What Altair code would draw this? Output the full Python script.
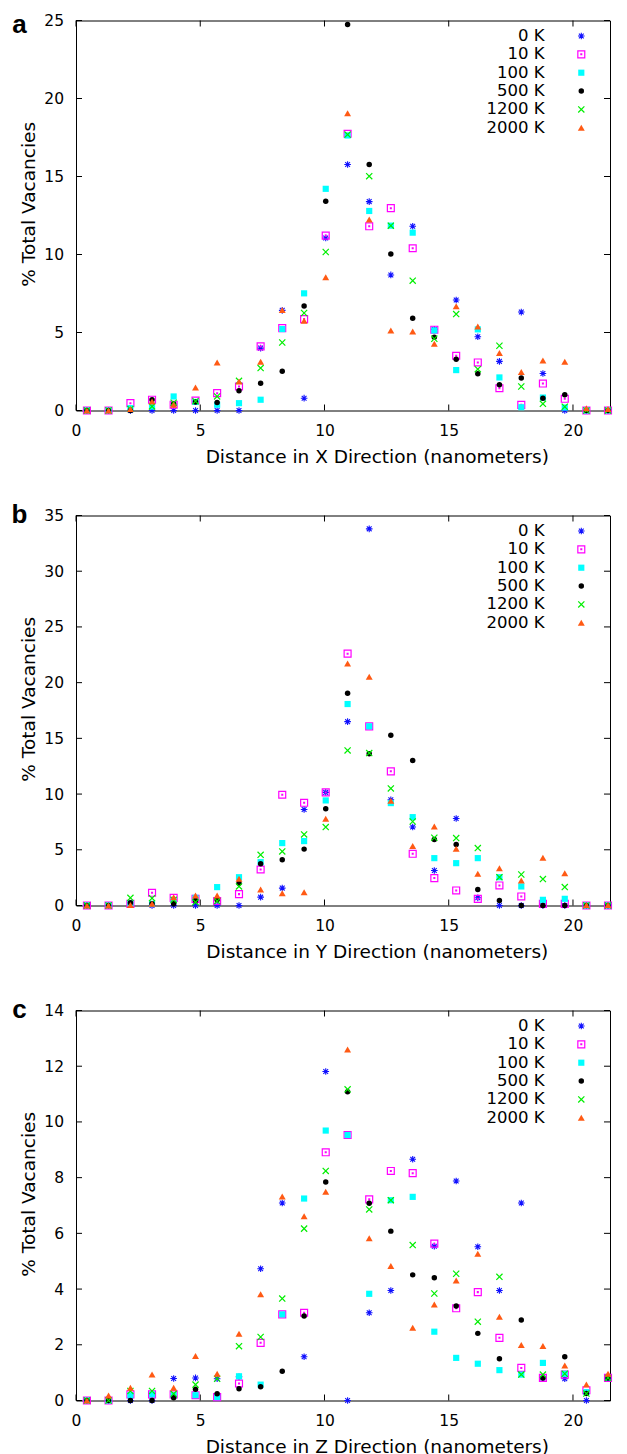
import altair as alt
import pandas as pd

FONT = "DejaVu Sans"
LETTER_FONT = "Liberation Sans"

# ---------------- data ----------------
distance_nm = [0.44, 1.31, 2.19, 3.06, 3.93, 4.81, 5.68, 6.56, 7.43, 8.30, 9.18, 10.05,
               10.93, 11.80, 12.67, 13.55, 14.42, 15.30, 16.17, 17.04, 17.92, 18.79,
               19.67, 20.54, 21.41]
temperature_labels = ["0 K", "10 K", "100 K", "500 K", "1200 K", "2000 K"]

# panel a : X direction
x_0K = [0, 0, 0, 0, 0, 0, 0, 0, 4.0, 6.42, 0.79, 11.06, 15.77, 13.39, 8.69, 11.81, 5.2,
        7.08, 4.73, 3.15, 6.31, 2.37, 0, 0, 0]
x_10K = [0, 0, 0.47, 0.69, 0.37, 0.64, 1.11, 1.54, 4.11, 5.28, 5.86, 11.21, 17.74, 11.81,
         12.97, 10.40, 5.18, 3.51, 3.08, 1.43, 0.36, 1.73, 0.75, 0, 0]
x_100K = [0, 0, 0.15, 0.25, 0.9, 0.55, 0.37, 0.47, 0.69, 5.22, 7.51, 14.21, 17.63, 12.79,
          11.85, 11.40, 5.13, 2.59, 5.2, 2.12, 0.21, 0.83, 0.19, 0, 0]
x_500K = [0, 0, 0, 0.69, 0.41, 0.55, 0.51, 1.26, 1.75, 2.52, 6.70, 13.41, 24.75, 15.77,
          10.03, 5.91, 4.69, 3.29, 2.35, 1.65, 2.08, 0.79, 1.01, 0, 0]
x_1200K = [0, 0, 0.1, 0.26, 0.5, 0.6, 0.9, 1.9, 2.72, 4.36, 6.25, 10.16, 17.69, 15.02,
           11.85, 8.32, 4.6, 6.18, 2.65, 4.15, 1.54, 0.43, 0.24, 0, 0]
x_2000K = [0, 0, 0.1, 0.58, 0.37, 1.48, 3.08, 1.86, 3.12, 6.44, 5.76, 8.54, 19.06, 12.24,
           5.13, 5.07, 4.28, 6.68, 5.39, 3.68, 2.46, 3.21, 3.12, 0.15, 0.1]

# panel b : Y direction
y_0K = [0, 0, 0.1, 0, 0, 0, 0, 0, 0.75, 1.56, 8.62, 10.15, 16.5, 33.8, 9.49, 7.04, 3.14,
        7.81, 0.69, 0, 0, 0, 0, 0, 0]
y_10K = [0, 0, 0.15, 1.14, 0.69, 0.6, 0.4, 1.02, 3.23, 9.94, 9.22, 10.15, 22.6, 16.08,
         12.04, 4.64, 2.46, 1.35, 0.6, 1.8, 0.81, 0.15, 0.15, 0, 0]
y_100K = [0, 0, 0.2, 0.15, 0.45, 0.69, 1.65, 2.54, 3.89, 5.6, 5.78, 9.43, 18.08, 16.08,
          9.19, 7.93, 4.25, 3.8, 4.25, 2.54, 1.71, 0.51, 0.6, 0, 0]
y_500K = [0, 0, 0.24, 0.15, 0.15, 0.45, 0.51, 2.0, 3.74, 4.1, 5.06, 8.68, 19.04, 13.62,
          15.27, 13.02, 5.93, 5.48, 1.44, 0.45, 0, 0, 0, 0, 0]
y_1200K = [0, 0, 0.69, 0.66, 0.51, 0.3, 0.4, 1.71, 4.55, 4.85, 6.38, 7.04, 13.92, 13.68,
           10.51, 7.54, 6.08, 6.05, 5.15, 2.54, 2.78, 2.37, 1.65, 0, 0]
y_2000K = [0, 0, 0.05, 0.15, 0.75, 0.9, 0.9, 2.4, 1.44, 1.11, 1.2, 7.78, 21.71, 20.54,
           9.4, 5.33, 7.1, 5.09, 2.84, 3.35, 2.25, 4.28, 2.9, 0.05, 0.05]

# panel c : Z direction
z_0K = [0, 0, 0, 0, 0.79, 0.81, 0.78, 0.85, 4.73, 7.09, 1.57, 11.81, 0, 3.15, 3.95, 8.66,
        5.54, 7.88, 5.52, 3.95, 7.09, 0.81, 0.78, 0, 0.81]
z_10K = [0, 0, 0.22, 0.22, 0.22, 0.19, 0.12, 0.61, 2.07, 3.09, 3.15, 8.91, 9.53, 7.22,
         8.24, 8.16, 5.63, 3.31, 3.89, 2.25, 1.17, 0.81, 0.93, 0.37, 0.81]
z_100K = [0, 0, 0.19, 0.22, 0.19, 0.19, 0.12, 0.87, 0.57, 3.09, 7.25, 9.69, 9.53, 3.83,
          7.19, 7.31, 2.47, 1.53, 1.32, 1.09, 0.93, 1.35, 0.96, 0.3, 0.81]
z_500K = [0, 0, 0, 0, 0.1, 0.4, 0.24, 0.42, 0.49, 1.05, 3.03, 7.84, 11.08, 7.08, 6.08,
          4.51, 4.41, 3.39, 2.41, 1.5, 2.89, 0.81, 1.57, 0.25, 0.81]
z_1200K = [0, 0, 0.34, 0.34, 0.24, 0.57, 0.78, 1.95, 2.28, 3.66, 6.17, 8.24, 11.17, 6.86,
           7.19, 5.58, 3.84, 4.55, 2.83, 4.44, 0.93, 0.93, 0.96, 0.25, 0.81]
z_2000K = [0, 0.18, 0.46, 0.93, 0.46, 1.6, 0.96, 2.4, 3.81, 7.32, 6.61, 7.49, 12.6, 5.82,
           4.83, 2.61, 3.45, 4.31, 5.27, 3.01, 1.99, 1.96, 1.26, 0.57, 0.96]

panel_letters = ["a", "b", "c"]
directions = ["X", "Y", "Z"]
x_tick_values = [0, 5, 10, 15, 20]
y_ticks_a = [0, 5, 10, 15, 20, 25]
y_ticks_b = [0, 5, 10, 15, 20, 25, 30, 35]
y_ticks_c = [0, 2, 4, 6, 8, 10, 12, 14]

panel_series = [
    [x_0K, x_10K, x_100K, x_500K, x_1200K, x_2000K],
    [y_0K, y_10K, y_100K, y_500K, y_1200K, y_2000K],
    [z_0K, z_10K, z_100K, z_500K, z_1200K, z_2000K],
]
panel_yticks = [y_ticks_a, y_ticks_b, y_ticks_c]
X_MAX = 21.49

# ---------------- styles ----------------
W, H = 534, 390
TICK = 6
STAR = "M-1,0L1,0M0,-1L0,1M-0.72,-0.72L0.72,0.72M-0.72,0.72L0.72,-0.72"
SQDOT = "M-1,-1L1,-1L1,1L-1,1Z M-0.12,-0.12L0.12,-0.12L0.12,0.12L-0.12,0.12Z"
XSHAPE = "M-1,-1L1,1M-1,1L1,-1"
styles = [
    dict(shape=STAR, filled=False, color="#1010ff", size=44, strokeWidth=1.1, opacity=1),
    dict(shape=SQDOT, filled=False, color="#ff00ff", size=48, strokeWidth=1.2, opacity=1),
    dict(shape="square", filled=True, color="#00ffff", size=38, opacity=1),
    dict(shape="circle", filled=True, color="#000000", size=30, opacity=1),
    dict(shape=XSHAPE, filled=False, color="#00ee00", size=38, strokeWidth=1.2, opacity=1),
    dict(shape="triangle-up", filled=True, color="#ff5a14", size=48, opacity=1),
]
LEGEND_TEXT_X = 468.6
LEGEND_SYMBOL_X = 505.3
LETTER_Y = [12.0, 7.5, 7.5]
X_TITLE_X = 300.8
Y_TITLE_Y = 183.3


def panel(k):
    xaxis = alt.Axis(values=x_tick_values, title=f"Distance in {directions[k]} Direction (nanometers)",
                     ticks=False, tickSize=0, domain=False, grid=False, labelFlush=False,
                     labelOverlap=False, labelPadding=12.5, titlePadding=8.5, titleX=X_TITLE_X,
                     labelFont=FONT, titleFont=FONT, labelFontSize=15.5, titleFontSize=18.5,
                     titleFontWeight="normal", labelColor="black", titleColor="black", format="d")
    yaxis = alt.Axis(values=panel_yticks[k], title="% Total Vacancies",
                     ticks=False, tickSize=0, domain=False, grid=False, labelFlush=False,
                     labelOverlap=False, labelPadding=12.5, titlePadding=5.5, titleY=Y_TITLE_Y,
                     labelFont=FONT, titleFont=FONT, labelFontSize=15.5, titleFontSize=18.5,
                     titleFontWeight="normal", labelColor="black", titleColor="black", format="d")
    xscale = alt.Scale(domain=[0, X_MAX], nice=False, zero=False)
    yscale = alt.Scale(domain=[0, panel_yticks[k][-1]], nice=False, zero=False)
    xenc = alt.X("x:Q", scale=xscale, axis=xaxis)
    yenc = alt.Y("y:Q", scale=yscale, axis=yaxis)

    xt = pd.DataFrame({"x": x_tick_values})
    yt = pd.DataFrame({"y": panel_yticks[k]})
    layers = [
        alt.Chart(xt).mark_rule(color="black", strokeWidth=1).encode(
            x=xenc, y=alt.value(H), y2=alt.value(H - TICK)),
        alt.Chart(xt).mark_rule(color="black", strokeWidth=1).encode(
            x=xenc, y=alt.value(0), y2=alt.value(TICK)),
        alt.Chart(yt).mark_rule(color="black", strokeWidth=1).encode(
            y=yenc, x=alt.value(0), x2=alt.value(TICK)),
        alt.Chart(yt).mark_rule(color="black", strokeWidth=1).encode(
            y=yenc, x=alt.value(W - TICK), x2=alt.value(W)),
    ]
    for j, vals in enumerate(panel_series[k]):
        df = pd.DataFrame({"x": distance_nm, "y": vals})
        layers.append(alt.Chart(df).mark_point(**styles[j]).encode(x=xenc, y=yenc))
    for j, name in enumerate(temperature_labels):
        ly = 15.5 + 18.35 * j
        d = alt.Data(values=[{"label": name}])
        layers.append(alt.Chart(d).mark_text(align="right", baseline="middle", font=FONT,
                                             fontSize=16.5, color="black").encode(
            x=alt.value(LEGEND_TEXT_X), y=alt.value(ly), text="label:N"))
        layers.append(alt.Chart(d).mark_point(**styles[j]).encode(
            x=alt.value(LEGEND_SYMBOL_X), y=alt.value(ly)))
    letter = alt.Data(values=[{"t": panel_letters[k]}])
    layers.append(alt.Chart(letter).mark_text(align="center", baseline="alphabetic", font=LETTER_FONT,
                                              fontSize=26, fontWeight="bold", color="black").encode(
        x=alt.value(-56.5), y=alt.value(LETTER_Y[k]), text="t:N"))
    return alt.layer(*layers).properties(width=W, height=H)


chart = alt.vconcat(panel(0), panel(1), panel(2), spacing=105, bounds="flush").configure_view(
    stroke="black", strokeWidth=1
).properties(padding={"left": 3, "top": 2.5, "right": 0, "bottom": 0})

chart.save("out.html", embed_options={"renderer": "svg", "actions": False})
